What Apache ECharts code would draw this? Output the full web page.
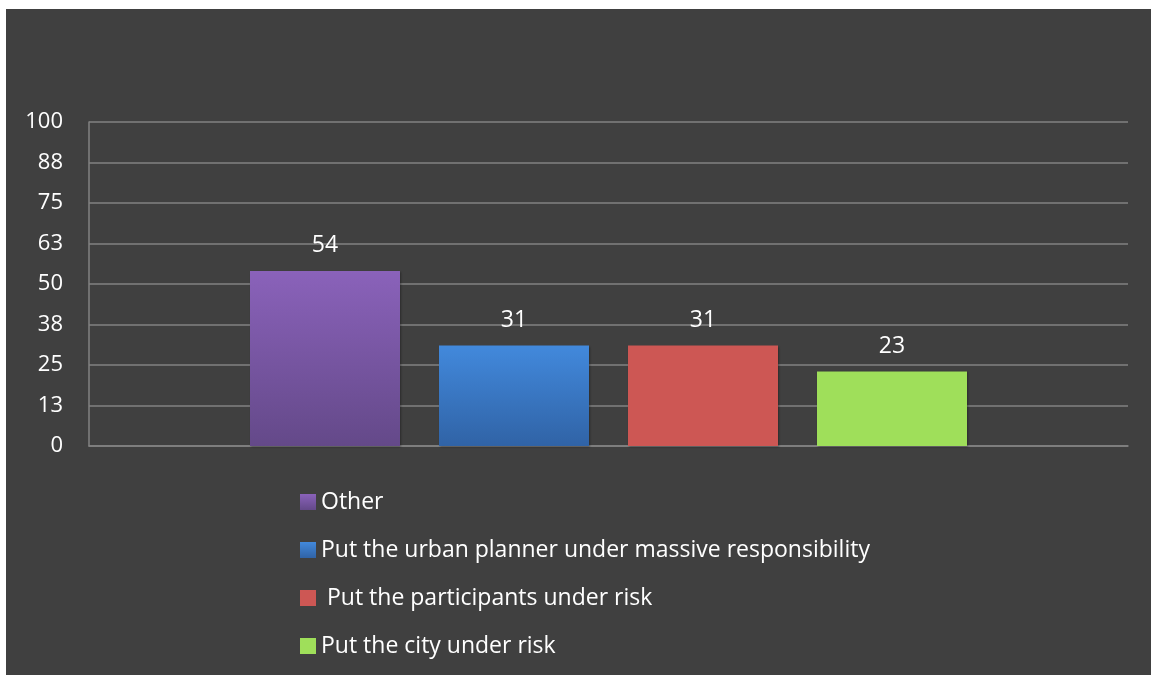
<!DOCTYPE html>
<html>
<head>
<meta charset="utf-8">
<script src="https://cdn.jsdelivr.net/npm/echarts@6/dist/echarts.min.js"></script>
<style>
  html, body { margin: 0; padding: 0; background: #ffffff; }
  #chart { position: absolute; left: 6px; top: 9px; width: 1145px; height: 666px; background: #404040; }
</style>
</head>
<body>
<div id="chart"></div>
<script>
// Survey answers, one bar per answer
const seriesNames = [
  'Other',
  'Put the urban planner under massive responsibility',
  ' Put the participants under risk',
  'Put the city under risk'
];
const seriesValues = [54, 31, 31, 23];
const categories = [''];

// Fill colours for each bar: [top, bottom]
const barColors = [
  ['#8a62ba', '#644989'],
  ['#4289dc', '#3063a6'],
  ['#cd5754', '#cd5754'],
  ['#9fdf5a', '#9fdf5a']
];

const FONT = '"Open Sans", sans-serif';

const chart = echarts.init(document.getElementById('chart'));

const series = seriesNames.map((name, i) => ({
  name: name,
  type: 'bar',
  barWidth: 150,
  barGap: '26%',
  data: [seriesValues[i]],
  itemStyle: {
    color: new echarts.graphic.LinearGradient(0, 0, 0, 1, [
      { offset: 0, color: barColors[i][0] },
      { offset: 1, color: barColors[i][1] }
    ]),
    shadowColor: 'rgba(0,0,0,0.35)',
    shadowBlur: 2,
    shadowOffsetX: 1,
    shadowOffsetY: 1
  },
  label: {
    show: true,
    position: 'top',
    distance: 14,
    color: '#ffffff',
    fontFamily: FONT,
    fontSize: 23
  }
}));

chart.setOption({
  backgroundColor: '#404040',
  animation: false,
  grid: { left: 83, right: 23, top: 113, bottom: 229, containLabel: false },
  legend: {
    orient: 'vertical',
    left: 294,
    top: 481,
    padding: 0,
    itemWidth: 16,
    itemHeight: 16,
    itemGap: 24,
    icon: 'rect',
    selectedMode: false,
    textStyle: { color: '#ffffff', fontFamily: FONT, fontSize: 23, lineHeight: 24 },
    data: seriesNames
  },
  xAxis: {
    type: 'category',
    data: categories,
    axisLine: { show: true, lineStyle: { color: '#828282', width: 1.5 } },
    axisTick: { show: false },
    axisLabel: { show: false }
  },
  yAxis: {
    type: 'value',
    min: 0,
    max: 100,
    interval: 12.5,
    axisLine: { show: true, lineStyle: { color: '#828282', width: 1.5 } },
    axisTick: { show: false },
    splitLine: { show: true, lineStyle: { color: '#828282', width: 1.5 } },
    axisLabel: {
      color: '#ffffff',
      fontFamily: FONT,
      fontSize: 22,
      margin: 26,
      formatter: v => String(Math.round(v))
    }
  },
  series: series
});
</script>
</body>
</html>
